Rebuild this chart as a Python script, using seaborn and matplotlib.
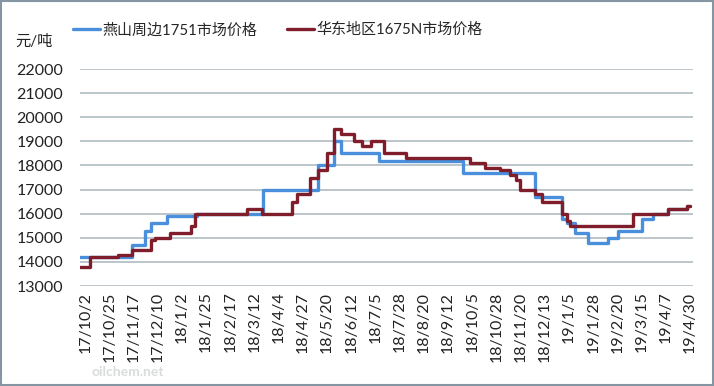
import pandas as pd
import matplotlib
matplotlib.use("Agg")
import matplotlib.pyplot as plt
from matplotlib.patches import Rectangle
import seaborn as sns

# step change points (date of change -> new price)
YS_NAME = "燕山周边1751市场价格"
YS_DATES = ["2017-09-27", "2017-11-15", "2017-11-28", "2017-12-04", "2017-12-19",
            "2018-01-16", "2018-03-20", "2018-05-11", "2018-05-27", "2018-06-02",
            "2018-07-08", "2018-09-26", "2018-12-04", "2018-12-29", "2019-01-03",
            "2019-01-11", "2019-01-23", "2019-02-11", "2019-02-21", "2019-03-15",
            "2019-03-26", "2019-04-09", "2019-04-27", "2019-04-30"]
YS_PRICE = [14200, 14700, 15300, 15600, 15900,
            16000, 17000, 18000, 19000, 18500,
            18200, 17700, 16700, 15800, 15600,
            15200, 14800, 15000, 15300, 15800,
            16000, 16200, 16300, 16300]

HD_NAME = "华东地区1675N市场价格"
HD_DATES = ["2017-09-27", "2017-10-07", "2017-11-02", "2017-11-15", "2017-12-04",
            "2017-12-07", "2017-12-22", "2018-01-11", "2018-01-14", "2018-03-05",
            "2018-03-19", "2018-04-17", "2018-04-21", "2018-05-04", "2018-05-11",
            "2018-05-20", "2018-05-27", "2018-06-02", "2018-06-15", "2018-06-22",
            "2018-07-01", "2018-07-13", "2018-08-03", "2018-10-03", "2018-10-17",
            "2018-10-31", "2018-11-10", "2018-11-16", "2018-11-19", "2018-12-04",
            "2018-12-10", "2018-12-29", "2019-01-03", "2019-01-06", "2019-03-07",
            "2019-04-09", "2019-04-27", "2019-04-30"]
HD_PRICE = [13800, 14200, 14300, 14500, 14900,
            15000, 15200, 15500, 16000, 16200,
            16000, 16500, 16800, 17500, 17800,
            18500, 19500, 19300, 19000, 18800,
            19000, 18500, 18300, 18100, 17900,
            17800, 17600, 17400, 17000, 16800,
            16500, 16000, 15700, 15500, 16000,
            16200, 16300, 16300]

TICK_START = "2017-10-02"
TICK_COUNT = 26
TICK_STEP = "23D"
Y_TICKS = [13000, 14000, 15000, 16000, 17000, 18000, 19000, 20000, 21000, 22000]

COLORS = {YS_NAME: "#4a8fdc", HD_NAME: "#7f1d2b"}

sns.set_theme(style="white")
plt.rcParams["font.family"] = ["Lato", "Noto Sans CJK SC", "DejaVu Sans"]

df = pd.concat([
    pd.DataFrame({"date": pd.to_datetime(YS_DATES), "price": YS_PRICE, "series": YS_NAME}),
    pd.DataFrame({"date": pd.to_datetime(HD_DATES), "price": HD_PRICE, "series": HD_NAME}),
], ignore_index=True)

fig = plt.figure(figsize=(7.14, 3.86), dpi=100)
ax = fig.add_axes([0.112, 0.259, 0.8588, 0.5622])

sns.lineplot(data=df, x="date", y="price", hue="series", hue_order=[YS_NAME, HD_NAME],
             palette=COLORS, drawstyle="steps-post", linewidth=2.4, ax=ax, legend=True)

ax.set_ylim(13000, 22000)
ax.set_yticks(Y_TICKS)
ax.set_xlim(pd.Timestamp("2017-09-27"), pd.Timestamp("2019-05-03"))
ticks = pd.date_range(TICK_START, periods=TICK_COUNT, freq=TICK_STEP)
ax.set_xticks(ticks)
ax.set_xticklabels([f"{d.year % 100}/{d.month}/{d.day}" for d in ticks],
                   rotation=90, fontsize=11.5, color="#222222")
ax.tick_params(axis="y", labelsize=11.5, labelcolor="#222222", length=0, pad=12)
ax.tick_params(axis="x", length=0, pad=4)
ax.set_xlabel("")
ax.set_ylabel("")

ax.grid(axis="y", color="#aab5ba", linewidth=1.1)
ax.set_axisbelow(True)
for s in ax.spines.values():
    s.set_visible(False)

handles, labels = ax.get_legend_handles_labels()
ax.legend(handles, labels, loc="center left", bbox_to_anchor=(0.092, 0.922),
          bbox_transform=fig.transFigure, ncol=2, frameon=False, fontsize=10.8,
          handlelength=1.8, handletextpad=0.15, columnspacing=2.0, borderpad=0)

fig.text(0.022, 0.893, "元/吨", fontsize=11, color="#222222", va="center")
fig.text(0.128, 0.035, "oilchem.net", fontsize=10, color="#d9dcdc",
         fontweight="bold", va="center")

fig.patches.append(Rectangle((0.002, 0.003), 0.996, 0.994, transform=fig.transFigure,
                             fill=False, edgecolor="#8596a2", linewidth=1.5))

fig.savefig("out.png", dpi=100)
